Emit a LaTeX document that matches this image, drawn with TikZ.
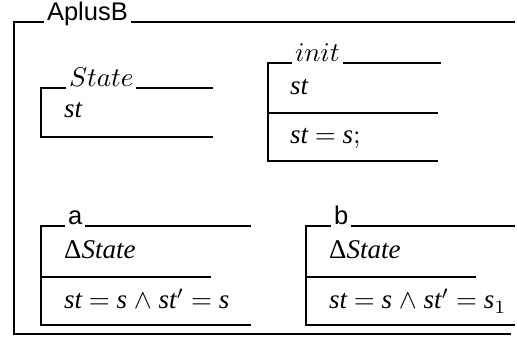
\documentclass[tikz,border=0pt]{standalone}
\usepackage{fontspec}
\newfontfamily\zsans{Liberation Sans}
\newfontfamily\ztms{Liberation Serif}
\newcommand\zit[1]{{\ztms\itshape #1}}
\newcommand\zbig[1]{\scalebox{2.7}{\fontsize{10}{12}\selectfont\spaceskip=2.5pt plus 1pt #1}}
\begin{document}
\begin{tikzpicture}[x=1pt,y=1pt,
  outer/.style={line width=2.8pt},
  inner/.style={line width=2.2pt},
  ttl/.style={anchor=base west,inner sep=0pt,outer sep=3pt},
  sttl/.style={ttl,font=\zsans\fontsize{25.5}{30}\selectfont},
  body/.style={anchor=base west,inner sep=0pt}]
\useasboundingbox (0,0) rectangle (517,340);
% outer schema AplusB
\coordinate (o1) at (14,318);
\coordinate (o2) at (515,318);
\coordinate (o3) at (14,6);
\coordinate (o4) at (511,6);
\node[sttl] (tA) at (44,319.5) {AplusB};
\draw[outer] (tA.west |- o1) -- (o1) -- (o3) -- (o4);
\draw[outer] (tA.east |- o1) -- (o2);
% State
\coordinate (s1) at (41,252);
\coordinate (s2) at (213,252);
\coordinate (s3) at (41,203);
\coordinate (s4) at (213,203);
\node[ttl] (tS) at (66,253.5) {\zbig{$State$}};
\draw[inner] (tS.west |- s1) -- (s1) -- (s3) -- (s4);
\draw[inner] (tS.east |- s1) -- (s2);
\node[body] (sb) at (64,222) {\zbig{\zit{st}}};
% init
\coordinate (i1) at (268,277);
\coordinate (i2) at (441,277);
\coordinate (i3) at (268,227);
\coordinate (i4) at (438,227);
\coordinate (i5) at (268,179);
\coordinate (i6) at (438,179);
\node[ttl] (tI) at (292,278.5) {\zbig{$init$}};
\draw[inner] (tI.west |- i1) -- (i1) -- (i5) -- (i6);
\draw[inner] (tI.east |- i1) -- (i2);
\draw[inner] (i3) -- (i4);
\node[body] (ib1) at (290,245) {\zbig{\zit{st}}};
\node[body] (ib2) at (290,196) {\zbig{\zit{st} $=$ \zit{s};}};
% a
\coordinate (a1) at (41,114);
\coordinate (a2) at (251,114);
\coordinate (a3) at (41,63);
\coordinate (a4) at (211,63);
\coordinate (a5) at (41,15);
\coordinate (a6) at (251,15);
\node[sttl] (ta) at (65,115.5) {a};
\draw[inner] (ta.west |- a1) -- (a1) -- (a5) -- (a6);
\draw[inner] (ta.east |- a1) -- (a2);
\draw[inner] (a3) -- (a4);
\node[body] (ab1) at (64,81) {\zbig{{\ztms Δ}\zit{State}}};
\node[body] (ab2) at (64,31) {\zbig{\zit{st} $=$ \zit{s} $\wedge$ \zit{st}$'$ $=$ \zit{s}}};
% b
\coordinate (b1) at (306,114);
\coordinate (b2) at (515,114);
\coordinate (b3) at (306,63);
\coordinate (b4) at (476,63);
\coordinate (b5) at (306,15);
\coordinate (b6) at (515,15);
\node[sttl] (tb) at (331,115.5) {b};
\draw[inner] (tb.west |- b1) -- (b1) -- (b5) -- (b6);
\draw[inner] (tb.east |- b1) -- (b2);
\draw[inner] (b3) -- (b4);
\node[body] (bb1) at (329,81) {\zbig{{\ztms Δ}\zit{State}}};
\node[body] (bb2) at (329,31) {\zbig{\zit{st} $=$ \zit{s} $\wedge$ \zit{st}$'$ $=$ \zit{s}$_1$}};
\end{tikzpicture}
\end{document}
